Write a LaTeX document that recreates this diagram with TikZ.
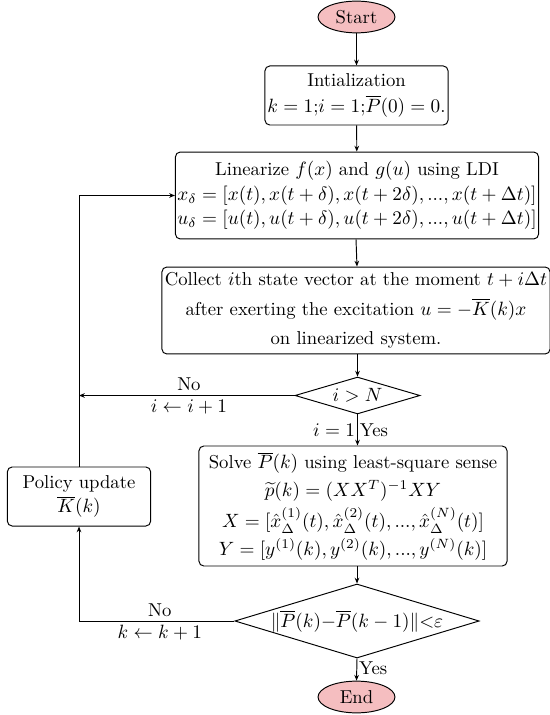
\documentclass[tikz,border=0pt]{standalone}
\usetikzlibrary{shapes.geometric,arrows.meta,positioning}
\definecolor{termfill}{RGB}{245,190,192}
\begin{document}
\begin{tikzpicture}[x=0.52pt,y=-0.52pt,
  every node/.style={font=\fontsize{9.7pt}{11.6pt}\selectfont},
  term/.style={ellipse,draw,fill=termfill,line width=0.5pt,inner sep=0pt,minimum width=40pt,minimum height=16.5pt},
  proc/.style={rectangle,rounded corners=2.5pt,draw,line width=0.5pt,align=center,inner sep=1pt},
  dec/.style={diamond,draw,line width=0.5pt,inner sep=0pt,aspect=3.3},
  conn/.style={line width=0.5pt,-{Stealth[length=3pt,width=2.4pt]}},
  lbl/.style={inner sep=1pt}]
\useasboundingbox (0,0) rectangle (550,715);

\node[term] (start) at (356.5,17) {Start};
\node[proc,minimum width=95.2pt,minimum height=30.7pt] (init) at (356.5,95.5)
  {Intialization\\[2pt] $k=1$;$i=1$;$\overline{P}(0)=0$.};
\node[proc,minimum width=187.2pt,minimum height=45.2pt] (lin) at (357,195.5)
  {Linearize $f(x)$ and $g(u)$ using LDI\\[1.2pt]
   $x_\delta=[x(t),x(t+\delta),x(t+2\delta),...,x(t+\Delta t)]$\\[1.2pt]
   $u_\delta=[u(t),u(t+\delta),u(t+2\delta),...,u(t+\Delta t)]$};
\node[proc,minimum width=201.8pt,minimum height=45.2pt] (coll) at (356,310.5)
  {Collect $i$th state vector at the moment $t+i\Delta t$\\[3.6pt]
   after exerting the excitation $u=-\overline{K}(k)x$\\[3.6pt]
   on linearized system.};
\node[dec,minimum width=65pt,minimum height=19.2pt] (d1) at (357.5,395.5) {$i>N$};
\node[proc,minimum width=160.2pt,minimum height=62.4pt] (solve) at (353,506)
  {Solve $\overline{P}(k)$ using least-square sense\\[2.5pt]
   $\widetilde{p}(k)=(XX^T)^{-1}XY$\\[2.5pt]
   $X=[\hat{x}_\Delta^{(1)}(t),\hat{x}_\Delta^{(2)}(t),...,\hat{x}_\Delta^{(N)}(t)]$\\[1.5pt]
   $Y=[y^{(1)}(k),y^{(2)}(k),...,y^{(N)}(k)]$};
\node[dec,minimum width=120.6pt,minimum height=36.4pt] (d2) at (357,621)
  {$\|\overline{P}(k){-}\overline{P}(k-1)\|{<}\varepsilon$};
\node[term] (end) at (356.5,697) {End};
\node[proc,minimum width=74.5pt,minimum height=30.7pt] (pol) at (79,496.5)
  {Policy update\\[1.2pt] $\overline{K}(k)$};

\draw[conn] (start) -- (init);
\draw[conn] (init) -- (lin);
\draw[conn] (lin.south -| coll.north) -- (coll.north -| lin.south);
\draw[conn] (coll.south -| d1.north) -- (d1.north);
\draw[conn] (d1.south) -- (d1.south |- solve.north)
  node[pos=0.5,left,lbl] {$i=1$} node[pos=0.5,right,lbl] {Yes};
\draw[conn] (solve.south -| d2.north) -- (d2.north);
\draw[conn] (d2.south) -- (end.north) node[pos=0.45,right,lbl] {Yes};

\coordinate (c1) at (pol.north |- d1.west);
\draw[conn] (d1.west) -- (c1)
  node[pos=0.49,above,lbl,yshift=1pt] {No} node[pos=0.49,below,lbl,yshift=-1pt] {$i\leftarrow i+1$};
\draw[conn] (pol.north) |- (lin.west);
\draw[conn] (d2.west) -| (pol.south)
  node[pos=0.24,above,lbl,yshift=1pt] {No} node[pos=0.24,below,lbl,yshift=-1pt] {$k\leftarrow k+1$};
\end{tikzpicture}
\end{document}
